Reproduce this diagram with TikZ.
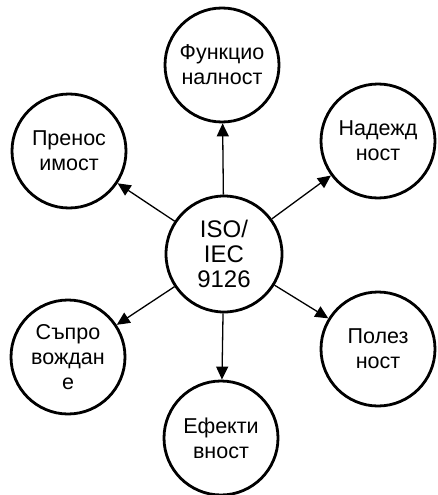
\documentclass[tikz,border=0pt]{standalone}
\usepackage{fontspec}
\setmainfont{Liberation Sans}
\usetikzlibrary{arrows.meta}

\tikzset{
	aspect/.style={draw, circle, line width=2.8pt, minimum size=114pt, inner sep=0pt, align=center, font=\fontsize{21.5pt}{25pt}\selectfont},
	hub/.style={aspect, minimum size=116pt, font=\fontsize{24pt}{25pt}\selectfont},
	link/.style={line width=1.3pt, ->}
}

\begin{document}
\begin{tikzpicture}[x=1pt, y=-1pt, >={Triangle[length=13pt,width=12pt]}]
		\useasboundingbox (0,0) rectangle (437,495);
		\node[hub] (iso) at (224,254) {ISO/\\IEC\\9126};
		
		\node[aspect] (func) at (222,65) {Функцио\\налност};
		\node[aspect] (port) at (69,151) {Пренос\\имост};
		\node[aspect] (rel) at (378,141) {Надежд\\ност};
		\node[aspect] (maint) at (68,357) {Съпро\\вождан\\е};
		\node[aspect] (use) at (378,349) {Полез\\ност};
		\node[aspect] (eff) at (221,438) {Ефекти\\вност};
		
		\draw[link] (iso) -- (func); \draw[link] (iso) -- (port); \draw[link] (iso) -- (rel);
		\draw[link] (iso) -- (maint); \draw[link] (iso) -- (use); \draw[link] (iso) -- (eff);
	\end{tikzpicture}
\end{document}
